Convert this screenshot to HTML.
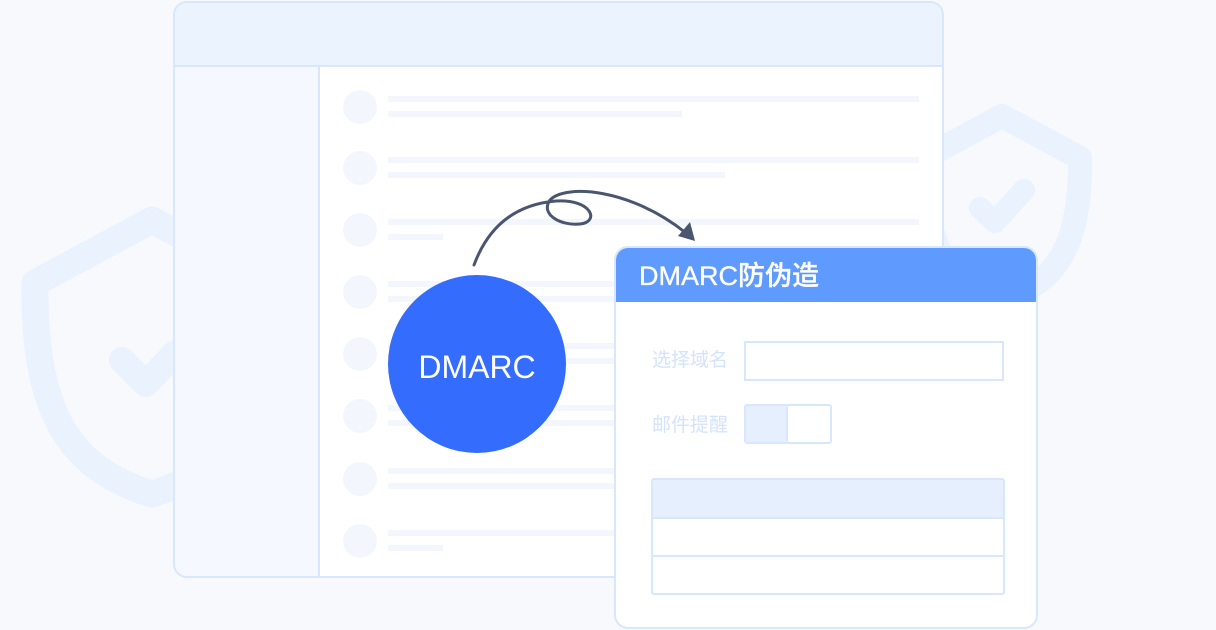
<!DOCTYPE html>
<html><head><meta charset="utf-8"><style>
body{margin:0;width:1216px;height:630px;overflow:hidden;background:#f7f9fd;font-family:"Liberation Sans","Noto Sans CJK SC",sans-serif;position:relative}
.abs{position:absolute;box-sizing:border-box}
</style></head><body>
<svg class="abs" style="left:0;top:0" width="1216" height="630">
<g fill="none" stroke="#eaf2fd" stroke-linecap="round" stroke-linejoin="round">
<path d="M152,220 L35,283 C33,420 75,470 152,494 C229,470 271,420 269,283 Z" stroke-width="27"/>
<path d="M122,360 L146,384 L175,353" stroke-width="26"/>
<path d="M1002,116 L924,158 C923,250 950,283 1002,300 C1054,283 1081,250 1080,158 Z" stroke-width="24"/>
<path d="M980,208 L995,222 L1024,190" stroke-width="22"/>
</g>
</svg>
<div class="abs" style="left:173px;top:1px;width:771px;height:577px;border:2px solid #d8e7fb;border-radius:14px;background:#fff;overflow:hidden">
<div class="abs" style="left:0;top:0;width:100%;height:64px;background:#ebf3fe;border-bottom:2px solid #d8e7fb"></div>
<div class="abs" style="left:0;top:64px;width:145px;height:520px;background:#f5f9ff;border-right:2px solid #d8e7fb"></div>
</div>
<svg class="abs" style="left:0;top:0" width="1216" height="630">
<g fill="#f3f7fd">
<circle cx="360" cy="107" r="17"/><rect x="388" y="96" width="531" height="6"/><rect x="388" y="111" width="294" height="6"/>
<circle cx="360" cy="168" r="17"/><rect x="388" y="157" width="531" height="6"/><rect x="388" y="172" width="337" height="6"/>
<circle cx="360" cy="230" r="17"/><rect x="388" y="219" width="531" height="6"/><rect x="388" y="234" width="55" height="6"/>
<circle cx="360" cy="292" r="17"/><rect x="388" y="281" width="531" height="6"/><rect x="388" y="296" width="300" height="6"/>
<circle cx="360" cy="354" r="17"/><rect x="388" y="343" width="531" height="6"/><rect x="388" y="358" width="300" height="6"/>
<circle cx="360" cy="416" r="17"/><rect x="388" y="405" width="531" height="6"/><rect x="388" y="420" width="300" height="6"/>
<circle cx="360" cy="479" r="17"/><rect x="388" y="468" width="531" height="6"/><rect x="388" y="483" width="300" height="6"/>
<circle cx="360" cy="541" r="17"/><rect x="388" y="530" width="300" height="6"/><rect x="388" y="545" width="55" height="6"/>
</g>
<path d="M474,265 C490,222 520,204 556,201 C592,199 600,222 580,224 C560,226 540,214 550,200 C565,184 630,188 686,233" fill="none" stroke="#4a5670" stroke-width="3" stroke-linecap="round"/>
<path d="M695,241 L678,236 L690,222 Z" fill="#4a5670"/>
<circle cx="477" cy="364" r="89" fill="#346cfd"/>
<text x="477" y="378" text-anchor="middle" fill="#fff" font-size="32" font-family="Liberation Sans, sans-serif">DMARC</text>
</svg>
<div class="abs" style="left:614px;top:246px;width:424px;height:383px;border:2px solid #d8e7fb;border-radius:14px;background:#fff;overflow:hidden">
<div class="abs" style="left:-2px;top:-2px;width:424px;height:56px;background:#5f9bff"></div>
<div class="abs" style="left:23px;top:12px;color:#fff;font-size:27px;line-height:32px;font-weight:500;-webkit-text-stroke:0.3px #fff">DMARC防伪造</div>
<div class="abs" style="left:36px;top:101px;color:#d3e3fb;font-size:19px;line-height:24px">选择域名</div>
<div class="abs" style="left:36px;top:166px;color:#d3e3fb;font-size:19px;line-height:24px">邮件提醒</div>
<div class="abs" style="left:128px;top:93px;width:260px;height:40px;border:2px solid #d8e7fb"></div>
<div class="abs" style="left:128px;top:156px;width:88px;height:40px;border:2px solid #d8e7fb;border-radius:3px;overflow:hidden"><div class="abs" style="left:0;top:0;width:42px;height:40px;background:#e5effe;border-right:2px solid #d8e7fb"></div></div>
<div class="abs" style="left:35px;top:230px;width:354px;height:117px;border:2px solid #d8e7fb;border-radius:3px;overflow:hidden">
<div class="abs" style="left:0;top:0;width:100%;height:39px;background:#e5effe;border-bottom:2px solid #d8e7fb"></div>
<div class="abs" style="left:0;top:75px;width:100%;height:2px;background:#d8e7fb"></div>
</div>
</div>
</body></html>
